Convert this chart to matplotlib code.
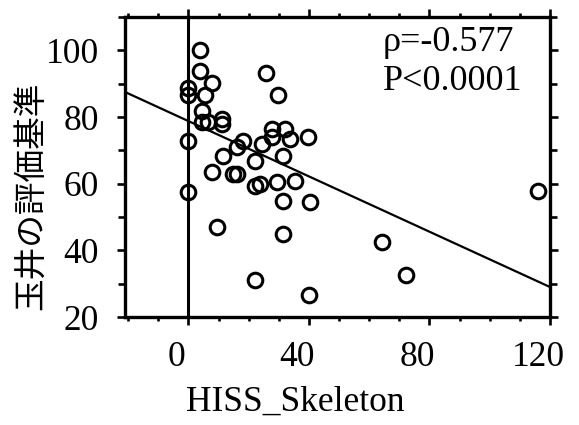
import numpy as np
import matplotlib
matplotlib.use('Agg')
import matplotlib.pyplot as plt
import matplotlib.transforms as mtransforms
from matplotlib.ticker import MultipleLocator

plt.rcParams['font.family'] = ['Liberation Serif', 'DejaVu Serif']

# data
hiss = [4.0, 4.0, 8.0, 0.0, 0.0, 5.6, 4.6, 4.6, 6.6, 11.3, 11.3, 0.0, 18.2, 11.6,
        8.0, 14.9, 16.2, 0.0, 9.6, 25.9, 29.8, 27.8, 32.2, 27.8, 33.8, 39.8,
        16.2, 24.5, 22.2, 31.5, 22.2, 23.9, 29.5, 35.5, 31.5, 40.4, 31.5, 22.2,
        40.1, 64.3, 72.3, 116.0]
tamai = [100.1, 93.7, 90.1, 88.6, 86.5, 86.5, 81.9, 78.6, 78.6, 79.5, 78.0, 72.9,
         72.9, 68.3, 63.5, 62.9, 62.9, 57.5, 46.9, 93.1, 86.5, 76.5, 76.5, 74.1,
         73.5, 74.1, 71.1, 72.0, 66.8, 68.3, 59.3, 59.9, 60.5, 60.8, 54.7, 54.4,
         44.8, 31.2, 26.6, 42.4, 32.7, 57.8]
fit_x = [-21, 120]
fit_y = [87.5, 29.0]
xticks = [0, 40, 80, 120]
yticks = [20, 40, 60, 80, 100]

fig = plt.figure(figsize=(5.79, 4.25), dpi=100)
ax = fig.add_axes([0.216, 0.254, 0.734, 0.706])

ax.plot(fit_x, fit_y, color='black', lw=1.6, zorder=2)
ax.axvline(0, color='black', lw=2.2, zorder=1)
ax.plot(hiss, tamai, 'o', ms=10.5, mfc='none', mec='black', mew=2.2, zorder=3)

ax.set_xlim(-21, 120)
ax.set_ylim(20, 110)
ax.set_xticks(xticks)
ax.set_yticks(yticks)
ax.xaxis.set_minor_locator(MultipleLocator(10))
ax.yaxis.set_minor_locator(MultipleLocator(10))

for s in ax.spines.values():
    s.set_linewidth(2.4)
ax.tick_params(which='both', direction='out', top=True, right=True, width=1.9,
               labelsize=25.5)
ax.tick_params(which='major', length=6)
ax.tick_params(which='minor', length=3)
ax.tick_params(axis='x', pad=11)
ax.tick_params(axis='y', pad=13)
ax.tick_params(axis='y', which='minor', length=5)

# x labels sit a little left of their ticks in the original
shift = mtransforms.ScaledTranslation(-12 / 100, 0, fig.dpi_scale_trans)
for lab in ax.get_xticklabels():
    lab.set_transform(lab.get_transform() + shift)

ax.set_xlabel('HISS_Skeleton', fontsize=25.5)
ax.xaxis.set_label_coords(0.40, -0.23)

fig.text(32 / 579, 1 - 196 / 425, '玉井の評価基準', rotation=90, ha='center',
         va='center', fontsize=23.5, family=['Noto Sans CJK JP'])

ax.text(0.607, 0.97, 'ρ=-0.577\nP<0.0001', transform=ax.transAxes, ha='left',
        va='top', fontsize=26, linespacing=1.25)

fig.savefig('out.png', dpi=100)
